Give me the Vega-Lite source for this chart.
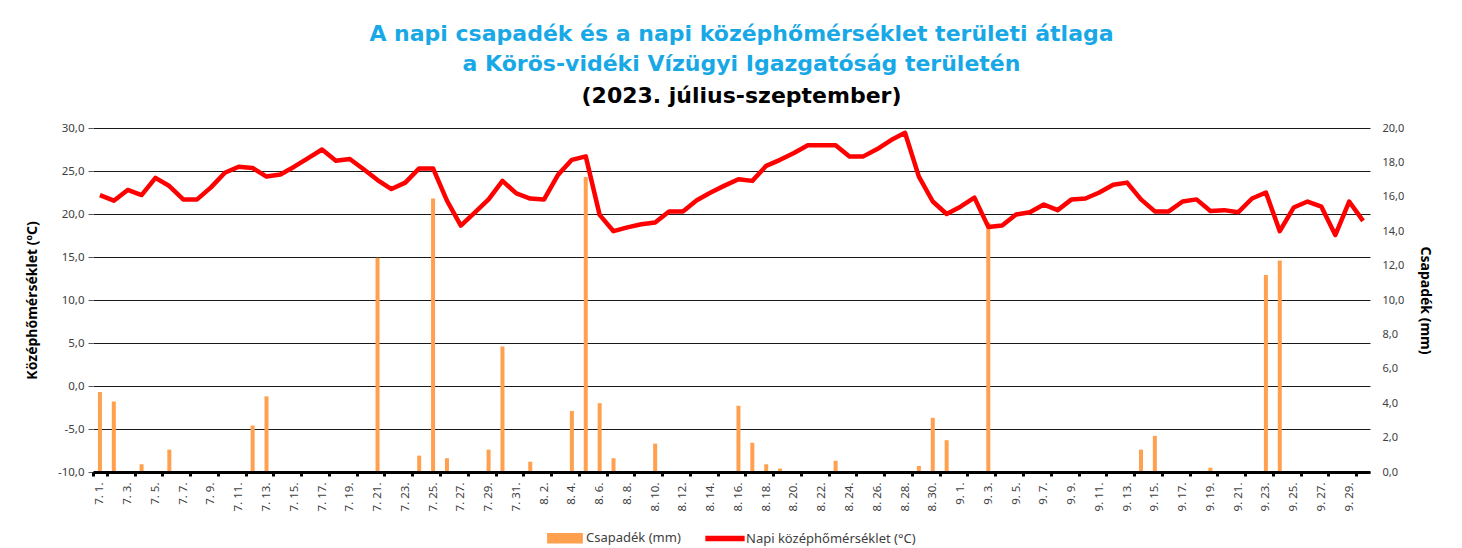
{
  "$schema": "https://vega.github.io/schema/vega-lite/v6.json",
  "autosize": "none",
  "width": 1277,
  "height": 344,
  "padding": {"left": 93, "top": 128, "right": 92, "bottom": 76},
  "background": "white",
  "config": {
    "view": {"stroke": null},
    "font": "Noto Sans",
    "axis": {"labelFont": "Noto Sans", "titleFont": "Noto Sans", "labelColor": "#404040", "titleColor": "#000000"}
  },
  "title": {
    "text": ["A napi csapadék és a napi középhőmérséklet területi átlaga", "a Körös-vidéki Vízügyi Igazgatóság területén"],
    "subtitle": "(2023. július-szeptember)",
    "font": "DejaVu Sans",
    "fontSize": 22,
    "fontWeight": "bold",
    "color": "#19A8E6",
    "lineHeight": 30,
    "subtitleFont": "DejaVu Sans",
    "subtitleFontSize": 22,
    "subtitleFontWeight": "bold",
    "subtitleColor": "#000000",
    "subtitlePadding": 10,
    "anchor": "middle",
    "frame": "group",
    "dx": 10,
    "offset": 14
  },
  "data": {
    "values": [
      {"nap": "7. 1.", "csap": 4.65, "hom": 22.2},
      {"nap": "7. 2.", "csap": 4.1, "hom": 21.55},
      {"nap": "7. 3.", "csap": 0, "hom": 22.8},
      {"nap": "7. 4.", "csap": 0.45, "hom": 22.2},
      {"nap": "7. 5.", "csap": 0, "hom": 24.2},
      {"nap": "7. 6.", "csap": 1.3, "hom": 23.25},
      {"nap": "7. 7.", "csap": 0, "hom": 21.7},
      {"nap": "7. 8.", "csap": 0, "hom": 21.7},
      {"nap": "7. 9.", "csap": 0, "hom": 23.1},
      {"nap": "7. 10.", "csap": 0, "hom": 24.8},
      {"nap": "7. 11.", "csap": 0, "hom": 25.5},
      {"nap": "7. 12.", "csap": 2.7, "hom": 25.35},
      {"nap": "7. 13.", "csap": 4.4, "hom": 24.35},
      {"nap": "7. 14.", "csap": 0, "hom": 24.6},
      {"nap": "7. 15.", "csap": 0, "hom": 25.5},
      {"nap": "7. 16.", "csap": 0, "hom": 26.5},
      {"nap": "7. 17.", "csap": 0.05, "hom": 27.5},
      {"nap": "7. 18.", "csap": 0, "hom": 26.2},
      {"nap": "7. 19.", "csap": 0, "hom": 26.4},
      {"nap": "7. 20.", "csap": 0, "hom": 25.2},
      {"nap": "7. 21.", "csap": 12.45, "hom": 23.95},
      {"nap": "7. 22.", "csap": 0, "hom": 22.9},
      {"nap": "7. 23.", "csap": 0, "hom": 23.65},
      {"nap": "7. 24.", "csap": 0.95, "hom": 25.3},
      {"nap": "7. 25.", "csap": 15.9, "hom": 25.3},
      {"nap": "7. 26.", "csap": 0.8, "hom": 21.55},
      {"nap": "7. 27.", "csap": 0, "hom": 18.65},
      {"nap": "7. 28.", "csap": 0, "hom": 20.15},
      {"nap": "7. 29.", "csap": 1.3, "hom": 21.7},
      {"nap": "7. 30.", "csap": 7.3, "hom": 23.85},
      {"nap": "7. 31.", "csap": 0, "hom": 22.4},
      {"nap": "8. 1.", "csap": 0.6, "hom": 21.8},
      {"nap": "8. 2.", "csap": 0, "hom": 21.7},
      {"nap": "8. 3.", "csap": 0, "hom": 24.55},
      {"nap": "8. 4.", "csap": 3.55, "hom": 26.3},
      {"nap": "8. 5.", "csap": 17.15, "hom": 26.7},
      {"nap": "8. 6.", "csap": 4.0, "hom": 19.9},
      {"nap": "8. 7.", "csap": 0.8, "hom": 18.0},
      {"nap": "8. 8.", "csap": 0, "hom": 18.45},
      {"nap": "8. 9.", "csap": 0, "hom": 18.8},
      {"nap": "8. 10.", "csap": 1.65, "hom": 19.0},
      {"nap": "8. 11.", "csap": 0, "hom": 20.3},
      {"nap": "8. 12.", "csap": 0, "hom": 20.3},
      {"nap": "8. 13.", "csap": 0, "hom": 21.6},
      {"nap": "8. 14.", "csap": 0, "hom": 22.5},
      {"nap": "8. 15.", "csap": 0, "hom": 23.3},
      {"nap": "8. 16.", "csap": 3.85, "hom": 24.05},
      {"nap": "8. 17.", "csap": 1.7, "hom": 23.85},
      {"nap": "8. 18.", "csap": 0.45, "hom": 25.6},
      {"nap": "8. 19.", "csap": 0.2, "hom": 26.3},
      {"nap": "8. 20.", "csap": 0, "hom": 27.1},
      {"nap": "8. 21.", "csap": 0, "hom": 28.0},
      {"nap": "8. 22.", "csap": 0, "hom": 28.0},
      {"nap": "8. 23.", "csap": 0.65, "hom": 28.0},
      {"nap": "8. 24.", "csap": 0, "hom": 26.7},
      {"nap": "8. 25.", "csap": 0, "hom": 26.7},
      {"nap": "8. 26.", "csap": 0, "hom": 27.55},
      {"nap": "8. 27.", "csap": 0, "hom": 28.6},
      {"nap": "8. 28.", "csap": 0, "hom": 29.45},
      {"nap": "8. 29.", "csap": 0.35, "hom": 24.35},
      {"nap": "8. 30.", "csap": 3.15, "hom": 21.45},
      {"nap": "8. 31.", "csap": 1.85, "hom": 20.0},
      {"nap": "9. 1.", "csap": 0, "hom": 20.85},
      {"nap": "9. 2.", "csap": 0, "hom": 21.9},
      {"nap": "9. 3.", "csap": 14.5, "hom": 18.5},
      {"nap": "9. 4.", "csap": 0, "hom": 18.65},
      {"nap": "9. 5.", "csap": 0, "hom": 19.95},
      {"nap": "9. 6.", "csap": 0, "hom": 20.2},
      {"nap": "9. 7.", "csap": 0, "hom": 21.1},
      {"nap": "9. 8.", "csap": 0, "hom": 20.45},
      {"nap": "9. 9.", "csap": 0, "hom": 21.7},
      {"nap": "9. 10.", "csap": 0, "hom": 21.8},
      {"nap": "9. 11.", "csap": 0, "hom": 22.5},
      {"nap": "9. 12.", "csap": 0, "hom": 23.4},
      {"nap": "9. 13.", "csap": 0, "hom": 23.65},
      {"nap": "9. 14.", "csap": 1.3, "hom": 21.7},
      {"nap": "9. 15.", "csap": 2.1, "hom": 20.3},
      {"nap": "9. 16.", "csap": 0.05, "hom": 20.3},
      {"nap": "9. 17.", "csap": 0.05, "hom": 21.45},
      {"nap": "9. 18.", "csap": 0, "hom": 21.7},
      {"nap": "9. 19.", "csap": 0.25, "hom": 20.35},
      {"nap": "9. 20.", "csap": 0, "hom": 20.45},
      {"nap": "9. 21.", "csap": 0, "hom": 20.2},
      {"nap": "9. 22.", "csap": 0.05, "hom": 21.8},
      {"nap": "9. 23.", "csap": 11.45, "hom": 22.5},
      {"nap": "9. 24.", "csap": 12.3, "hom": 18.0},
      {"nap": "9. 25.", "csap": 0, "hom": 20.75},
      {"nap": "9. 26.", "csap": 0, "hom": 21.45},
      {"nap": "9. 27.", "csap": 0, "hom": 20.85},
      {"nap": "9. 28.", "csap": 0, "hom": 17.55},
      {"nap": "9. 29.", "csap": 0, "hom": 21.45},
      {"nap": "9. 30.", "csap": 0, "hom": 19.2}
    ]
  },
  "encoding": {
    "x": {
      "field": "nap",
      "type": "ordinal",
      "sort": null,
      "scale": {"paddingInner": 0, "paddingOuter": 0},
      "axis": {
        "title": null,
        "values": ["7. 1.", "7. 3.", "7. 5.", "7. 7.", "7. 9.", "7. 11.", "7. 13.", "7. 15.", "7. 17.", "7. 19.", "7. 21.", "7. 23.", "7. 25.", "7. 27.", "7. 29.", "7. 31.", "8. 2.", "8. 4.", "8. 6.", "8. 8.", "8. 10.", "8. 12.", "8. 14.", "8. 16.", "8. 18.", "8. 20.", "8. 22.", "8. 24.", "8. 26.", "8. 28.", "8. 30.", "9. 1.", "9. 3.", "9. 5.", "9. 7.", "9. 9.", "9. 11.", "9. 13.", "9. 15.", "9. 17.", "9. 19.", "9. 21.", "9. 23.", "9. 25.", "9. 27.", "9. 29."],
        "labelAngle": -90,
        "labelAlign": "right",
        "labelBaseline": "middle",
        "labelFontSize": 11.5,
        "labelPadding": 6,
        "tickBand": "extent",
        "tickSize": 4,
        "tickWidth": 3,
        "tickColor": "#000000",
        "domainColor": "#000000",
        "domainWidth": 3,
        "grid": false,
        "zindex": 1
      }
    }
  },
  "layer": [
    {
      "mark": {"type": "bar", "width": 4, "color": "#FFA04F"},
      "encoding": {
        "y": {
          "field": "csap",
          "type": "quantitative",
          "scale": {"domain": [0, 20], "nice": false},
          "axis": {
            "orient": "right",
            "title": "Csapadék (mm)",
            "titleFontSize": 14,
            "titleFontWeight": "bold",
            "titlePadding": 14,
            "values": [0, 2, 4, 6, 8, 10, 12, 14, 16, 18, 20],
            "labelExpr": "replace(format(datum.value, '.1f'), '.', ',')",
            "labelFontSize": 11,
            "labelPadding": 12,
            "ticks": false,
            "domain": false,
            "grid": false
          }
        },
        "color": {
          "datum": "Csapadék (mm)",
          "type": "nominal",
          "scale": {"domain": ["Csapadék (mm)", "Napi középhőmérséklet (°C)"], "range": ["#FFA04F", "#FF0000"]},
          "legend": {
            "title": null,
            "orient": "none",
            "legendX": 453,
            "legendY": 391,
            "direction": "horizontal",
            "padding": 0,
            "symbolSize": 1296,
            "labelFontSize": 13,
            "labelLimit": 400,
            "labelColor": "#404040",
            "labelOffset": 2,
            "columnPadding": 22,
            "encode": {
              "symbols": {
                "update": {
                  "shape": {"signal": "datum.value === 'Csapadék (mm)' ? 'M-0.95,-0.25H0.95V0.25H-0.95Z' : 'M-1.05,-0.11H1.05V0.11H-1.05Z'"},
                  "fill": {"signal": "datum.value === 'Csapadék (mm)' ? '#FFA04F' : '#FF0000'"},
                  "stroke": {"value": "transparent"},
                  "opacity": {"value": 1},
                  "fillOpacity": {"value": 1}
                }
              }
            }
          }
        }
      }
    },
    {
      "mark": {"type": "line", "strokeWidth": 4.5, "strokeJoin": "round", "color": "#FF0000"},
      "encoding": {
        "y": {
          "field": "hom",
          "type": "quantitative",
          "scale": {"domain": [-10, 30], "nice": false},
          "axis": {
            "orient": "left",
            "title": "Középhőmérséklet (ºC)",
            "titleFontSize": 14,
            "titleFontWeight": "bold",
            "titlePadding": 18,
            "values": [-10, -5, 0, 5, 10, 15, 20, 25, 30],
            "labelExpr": "replace(replace(format(datum.value, '.1f'), '.', ','), '\u2212', '-')",
            "labelFontSize": 11.5,
            "labelPadding": 4,
            "tickSize": 5,
            "tickColor": "#595959",
            "domain": false,
            "grid": true,
            "gridColor": "#1a1a1a",
            "gridWidth": 1
          }
        },
        "color": {"datum": "Napi középhőmérséklet (°C)", "type": "nominal"}
      }
    }
  ],
  "resolve": {"scale": {"y": "independent"}}
}
